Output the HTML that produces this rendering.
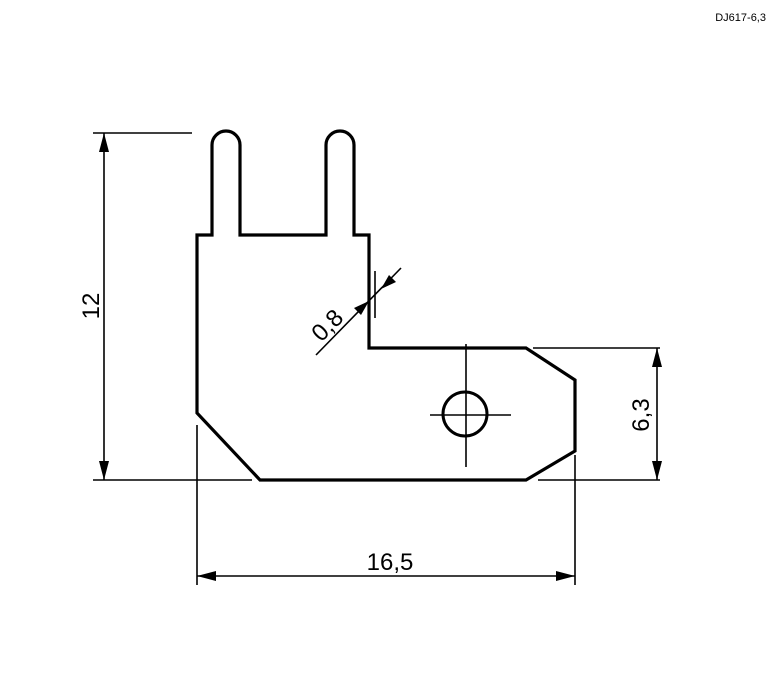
<!DOCTYPE html>
<html><head><style>body{margin:0;background:#fff}svg{display:block}</style></head><body>
<svg width="774" height="695" viewBox="0 0 774 695" xmlns="http://www.w3.org/2000/svg" font-family="Liberation Sans, sans-serif">
<rect width="774" height="695" fill="#fff"/>
<text x="766" y="21" font-size="11" text-anchor="end" fill="#000">DJ617-6,3</text>
<path d="M197 235 V413 L260 480 H526 L575 451 V380 L526 348 H369 V235 H354 V145 A14 14 0 0 0 326 145 V235 H240 V145 A14 14 0 0 0 212 145 V235 Z" fill="none" stroke="#000" stroke-width="3.2" stroke-linejoin="miter"/>
<circle cx="465" cy="414" r="22" fill="none" stroke="#000" stroke-width="3"/>
<g stroke="#000" stroke-width="1.6" fill="none">
<line x1="430" y1="415" x2="511" y2="415"/>
<line x1="466" y1="344" x2="466" y2="467"/>
<line x1="93" y1="133" x2="192" y2="133"/>
<line x1="93" y1="480" x2="252" y2="480"/>
<line x1="104" y1="133" x2="104" y2="480"/>
<line x1="533" y1="348" x2="660" y2="348"/>
<line x1="538" y1="480" x2="660" y2="480"/>
<line x1="657" y1="348" x2="657" y2="480"/>
<line x1="197" y1="425" x2="197" y2="585"/>
<line x1="575" y1="455" x2="575" y2="585"/>
<line x1="197" y1="576" x2="575" y2="576"/>
<line x1="316" y1="355" x2="401" y2="268"/>
<line x1="375" y1="271" x2="375" y2="318"/>
</g>
<g fill="#000">
<polygon points="104,133 99,152 109,152"/>
<polygon points="104,480 99,461 109,461"/>
<polygon points="657,348 652,367 662,367"/>
<polygon points="657,480 652,461 662,461"/>
<polygon points="197,576 216,571 216,581"/>
<polygon points="575,576 556,571 556,581"/>
<polygon points="369,301 354,308 361,315"/>
<polygon points="381,289 396,282 389,275"/>
</g>
<text x="390" y="570" font-size="24" text-anchor="middle">16,5</text>
<text transform="translate(99,306) rotate(-90)" font-size="24" text-anchor="middle">12</text>
<text transform="translate(649,415) rotate(-90)" font-size="24" text-anchor="middle">6,3</text>
<text transform="translate(333,331) rotate(-45)" font-size="24" text-anchor="middle">0,8</text>
</svg>
</body></html>
